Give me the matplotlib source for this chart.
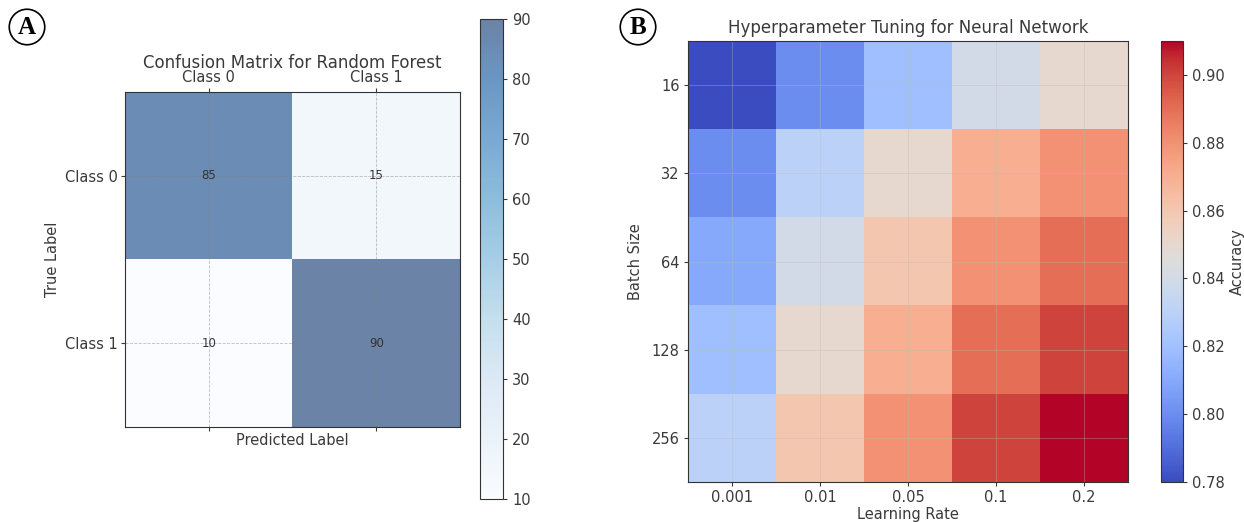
import numpy as np
import matplotlib.pyplot as plt

# confusion matrix (panel A)
cm_classes = ["Class 0", "Class 1"]
cm_values = [[85, 15],
             [10, 90]]

# hyperparameter grid (panel B)
learning_rates = ["0.001", "0.01", "0.05", "0.1", "0.2"]
batch_sizes = ["16", "32", "64", "128", "256"]
accuracy = [[0.78, 0.80, 0.82, 0.84, 0.85],
            [0.80, 0.83, 0.85, 0.87, 0.88],
            [0.81, 0.84, 0.86, 0.88, 0.89],
            [0.82, 0.85, 0.87, 0.89, 0.90],
            [0.83, 0.86, 0.88, 0.90, 0.91]]

TXT = "#3a3a3a"
plt.rcParams.update({
    "font.family": "DejaVu Sans",
    "text.color": TXT,
    "axes.labelcolor": TXT,
    "xtick.color": TXT,
    "ytick.color": TXT,
    "axes.edgecolor": "#333333",
})

W, H = 1244, 522
fig = plt.figure(figsize=(W / 100, H / 100), dpi=100)


def box(x0, y0, x1, y1):
    return [x0 / W, 1 - y1 / H, (x1 - x0) / W, (y1 - y0) / H]


FS = 10.5

# ---- panel A
ax1 = fig.add_axes(box(125, 92, 460, 427))
cax1 = fig.add_axes(box(480, 19, 503, 499))
im1 = ax1.matshow(np.array(cm_values), cmap="Blues", alpha=0.6, vmin=10, vmax=90, aspect="auto")
ax1.set_xticks(range(len(cm_classes)))
ax1.set_yticks(range(len(cm_classes)))
ax1.set_xticklabels(cm_classes, fontsize=FS)
ax1.set_yticklabels(cm_classes, fontsize=FS)
ax1.tick_params(length=3, pad=2)
ax1.grid(True, linestyle="--", color="gray", linewidth=0.6, alpha=0.5)
ax1.set_title("Confusion Matrix for Random Forest", fontsize=12, y=1.0, pad=17)
ax1.set_xlabel("Predicted Label", fontsize=FS, labelpad=1)
ax1.set_ylabel("True Label", fontsize=FS)
ax1.yaxis.set_label_coords(-0.195, 0.5)
for i in range(len(cm_classes)):
    for j in range(len(cm_classes)):
        ax1.text(j, i, str(cm_values[i][j]), ha="center", va="center", fontsize=8.5, color="#333333")
cb1 = fig.colorbar(im1, cax=cax1)
cb1.set_ticks(range(10, 91, 10))
cb1.ax.tick_params(labelsize=FS, length=3)

# ---- panel B
ax2 = fig.add_axes(box(688, 41, 1128, 482))
cax2 = fig.add_axes(box(1161, 41, 1183, 482))
im2 = ax2.imshow(np.array(accuracy), cmap="coolwarm", vmin=0.78, vmax=0.91, aspect="auto")
ax2.set_xticks(range(len(learning_rates)))
ax2.set_yticks(range(len(batch_sizes)))
ax2.set_xticklabels(learning_rates, fontsize=FS)
ax2.set_yticklabels(batch_sizes, fontsize=FS)
ax2.tick_params(length=3, pad=3)
ax2.grid(True, linestyle="-", color="#bbbbbb", linewidth=0.6, alpha=0.4)
ax2.set_title("Hyperparameter Tuning for Neural Network", fontsize=12, y=1.0, pad=6)
ax2.set_xlabel("Learning Rate", fontsize=FS, labelpad=1)
ax2.set_ylabel("Batch Size", fontsize=FS)
ax2.yaxis.set_label_coords(-0.102, 0.5)
cb2 = fig.colorbar(im2, cax=cax2)
cb2.set_ticks([0.78, 0.80, 0.82, 0.84, 0.86, 0.88, 0.90])
cb2.ax.tick_params(labelsize=FS, length=3)
cb2.set_label("Accuracy", fontsize=FS)

# panel letters
for x, letter in [(27, "A"), (638, "B")]:
    fig.text(x / W, 1 - 27 / H, letter, ha="center", va="center", fontsize=18,
             fontweight="bold", family="Liberation Serif", color="black",
             bbox=dict(boxstyle="circle,pad=0.25", fc="white", ec="black", lw=1.2))

fig.savefig("out.png", dpi=100)
